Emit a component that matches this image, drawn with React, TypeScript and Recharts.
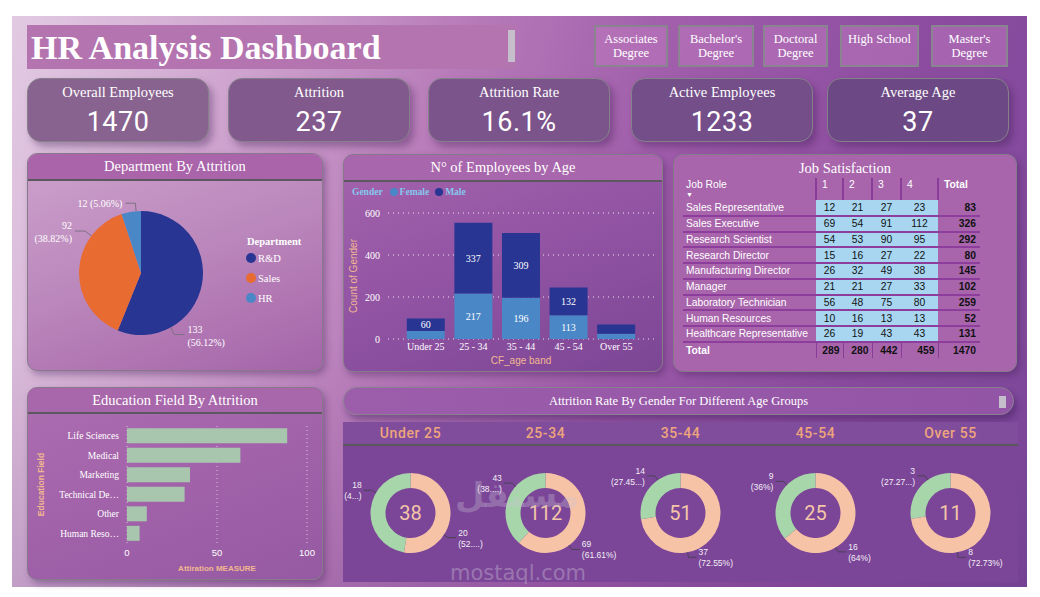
import React from "react";
import {
  PieChart,
  Pie,
  Cell,
  Label,
  BarChart,
  Bar,
  XAxis,
  YAxis,
  CartesianGrid,
  LabelList,
  Legend,
} from "recharts";

const SERIF = '"Liberation Serif", "Times New Roman", serif';
const SANS = '"Liberation Sans", Arial, sans-serif';
const DIN = 'Roboto, "Noto Sans", sans-serif';
const PEACH = "#f1b890";
const RAD = Math.PI / 180;

// KPI strip
const kpiLabels = ["Overall Employees", "Attrition", "Attrition Rate", "Active Employees", "Average Age"];
const kpiValues = ["1470", "237", "16.1%", "1233", "37"];
const educationLevels = ["Associates Degree", "Bachelor's Degree", "Doctoral Degree", "High School", "Master's Degree"];

// department by attrition
const departments = ["R&D", "Sales", "HR"];
const deptAttrition = [133, 92, 12];

// employees by age band
const ageBands = ["Under 25", "25 - 34", "35 - 44", "45 - 54", "Over 55"];
const femaleCounts = [38, 217, 196, 113, 25];
const maleCounts = [60, 337, 309, 132, 44];

// job satisfaction matrix
const jobRoles = [
  "Sales Representative",
  "Sales Executive",
  "Research Scientist",
  "Research Director",
  "Manufacturing Director",
  "Manager",
  "Laboratory Technician",
  "Human Resources",
  "Healthcare Representative",
];
const satLevels = ["1", "2", "3", "4"];
const sat1 = [12, 69, 54, 15, 26, 21, 56, 10, 26];
const sat2 = [21, 54, 53, 16, 32, 21, 48, 16, 19];
const sat3 = [27, 91, 90, 27, 49, 27, 75, 13, 43];
const sat4 = [23, 112, 95, 22, 38, 33, 80, 13, 43];

// education field by attrition
const eduFields = ["Life Sciences", "Medical", "Marketing", "Technical De…", "Other", "Human Reso…"];
const eduAttrition = [89, 63, 35, 32, 11, 7];

// attrition by gender per age group
const donutGroups = ["Under 25", "25-34", "35-44", "45-54", "Over 55"];
const donutMale = [20, 69, 37, 16, 8];
const donutFemale = [18, 43, 14, 9, 3];
const donutMalePct = ["(52....)", "(61.61%)", "(72.55%)", "(64%)", "(72.73%)"];
const donutFemalePct = ["(4...)", "(38....)", "(27.45...)", "(36%)", "(27.27...)"];

const deptColors = ["#283593", "#e86b32", "#4a87c7"];
const kpiLefts = [27, 228, 428, 631, 827];
const kpiFills = ["#89638f", "#82598d", "#7b548c", "#734e89", "#6c4984"];
const slicerLefts = [594, 678, 763, 840, 931];
const slicerWidths = [74, 76, 65, 79, 77];

function Panel({ left, top, width, height, title, headerH, bg, headerBg, line = true }: any) {
  return (
    <div
      style={{
        position: "absolute",
        left,
        top,
        width,
        height,
        boxSizing: "border-box",
        borderRadius: 10,
        border: "1.5px solid #85798a",
        background: bg,
        boxShadow: "3px 4px 7px rgba(60,25,80,0.35)",
        overflow: "hidden",
      }}
    >
      <div
        style={{
          height: headerH,
          background: headerBg,
          borderBottom: line ? "2px solid #5d575f" : "none",
          color: "#fff",
          fontFamily: SERIF,
          fontSize: 14.5,
          textAlign: "center",
          lineHeight: headerH + "px",
        }}
      >
        {title}
      </div>
    </div>
  );
}

function deptLabel(p: any) {
  const a = (p.startAngle + (p.endAngle - p.startAngle) * 0.75) * RAD;
  const c = Math.cos(a);
  const s = Math.sin(a);
  const x0 = p.cx + p.outerRadius * c;
  const y0 = p.cy - p.outerRadius * s;
  const x1 = p.cx + (p.outerRadius + 8) * c;
  const y1 = p.cy - (p.outerRadius + 8) * s;
  const dir = c >= 0 ? 1 : -1;
  const x2 = x1 + dir * 10;
  const tx = x2 + dir * 3;
  const pct = `(${(p.percent * 100).toFixed(2)}%)`;
  const single = Math.abs(s) > 0.95;
  return (
    <g>
      <polyline points={`${x0},${y0} ${x1},${y1} ${x2},${y1}`} fill="none" stroke="#7e6f83" strokeWidth={1} />
      <text x={tx} y={y1} textAnchor={dir > 0 ? "start" : "end"} fill="#fff" fontSize={10} fontFamily={SERIF}>
        {single ? (
          <tspan x={tx} dy={4}>{`${p.value} ${pct}`}</tspan>
        ) : (
          <>
            <tspan x={tx} dy={-2}>{p.value}</tspan>
            <tspan x={tx} dy={13}>{pct}</tspan>
          </>
        )}
      </text>
    </g>
  );
}

function donutLabel(p: any) {
  const a = (p.startAngle + (p.endAngle - p.startAngle) * 0.65) * RAD;
  const c = Math.cos(a);
  const s = Math.sin(a);
  const x0 = p.cx + p.outerRadius * c;
  const y0 = p.cy - p.outerRadius * s;
  const x1 = p.cx + (p.outerRadius + 5) * c;
  const y1 = p.cy - (p.outerRadius + 5) * s;
  const dir = c >= 0 ? 1 : -1;
  const x2 = x1 + dir * 8;
  const tx = x2 + dir * 2;
  const pct = p.payload?.pctText ?? p.pctText;
  return (
    <g>
      <polyline points={`${x0},${y0} ${x1},${y1} ${x2},${y1}`} fill="none" stroke="#4b4256" strokeWidth={1} />
      <text x={tx} y={y1} textAnchor={dir > 0 ? "start" : "end"} fill="#f3eef5" fontSize={8.5} fontFamily={SANS}>
        <tspan x={tx} dy={-2}>{p.value}</tspan>
        <tspan x={tx} dy={11}>{pct}</tspan>
      </text>
    </g>
  );
}

function stackLabel(props: any) {
  const { x, y, width, height, value } = props;
  if (height < 11) return null;
  return (
    <text
      x={x + width / 2}
      y={y + height / 2}
      fill="#fff"
      textAnchor="middle"
      dominantBaseline="central"
      fontSize={10}
      fontFamily={SERIF}
    >
      {value}
    </text>
  );
}

function EduTick({ x, y, payload }: any) {
  return (
    <text x={x} y={y} dy={3.5} textAnchor="end" fill="#fff" fontSize={9.5} fontFamily={SERIF}>
      {payload.value}
    </text>
  );
}

function GenderLegend({ payload }: any) {
  return (
    <div style={{ display: "flex", alignItems: "center", fontFamily: SERIF, fontWeight: "bold", fontSize: 9.5, color: "#86c8ee" }}>
      <span style={{ marginRight: 7 }}>Gender</span>
      {(payload || []).map((e: any) => (
        <span key={e.value} style={{ display: "flex", alignItems: "center", marginRight: 6 }}>
          <span style={{ width: 8, height: 8, borderRadius: 4, background: e.color, marginRight: 2 }} />
          {e.value}
        </span>
      ))}
    </div>
  );
}

function DeptLegend({ payload }: any) {
  const items = [...(payload || [])].sort(
    (a: any, b: any) => departments.indexOf(a.value) - departments.indexOf(b.value)
  );
  return (
    <div style={{ fontFamily: SERIF, color: "#fff", fontSize: 10.5 }}>
      <div style={{ fontWeight: "bold", height: 12, lineHeight: "12px" }}>Department</div>
      {items.map((e: any) => (
        <div key={e.value} style={{ display: "flex", alignItems: "center", height: 20 }}>
          <span
            style={{
              width: 10,
              height: 10,
              borderRadius: 5,
              background: deptColors[departments.indexOf(e.value)],
              marginLeft: -1,
              marginRight: 2,
            }}
          />
          {e.value}
        </div>
      ))}
    </div>
  );
}

export default function App() {
  const deptData = departments.map((name, i) => ({ name, value: deptAttrition[i] }));
  const ageData = ageBands.map((band, i) => ({ band, female: femaleCounts[i], male: maleCounts[i] }));
  const eduData = eduFields.map((field, i) => ({ field, value: eduAttrition[i] }));
  const satCols = [sat1, sat2, sat3, sat4];
  const rowTotals = jobRoles.map((_, r) => satCols.reduce((s, col) => s + col[r], 0));
  const colTotals = satCols.map((col) => col.reduce((s, v) => s + v, 0));
  const grand = colTotals.reduce((s, v) => s + v, 0);

  const cellBase: any = { padding: 0, height: 15.75, boxSizing: "border-box", borderBottom: "2px solid #8d3d9b" };

  return (
    <div style={{ position: "fixed", left: 0, top: 0, width: 1040, height: 597, background: "#fff", overflow: "hidden" }}>
      <style>{`.recharts-surface{overflow:visible}`}</style>
      {/* dashboard background */}
      <div
        style={{
          position: "absolute",
          left: 12,
          top: 16,
          width: 1015,
          height: 571,
          background:
            "linear-gradient(180deg, rgba(0,0,0,0) 55%, rgba(50,20,90,0.12) 100%), linear-gradient(105deg, #e2cae2 0%, #cfa5cf 20%, #b679b8 40%, #9d5aa9 60%, #8b4c9f 80%, #7e499b 100%)",
        }}
      />

      {/* title */}
      <div
        style={{
          position: "absolute",
          left: 27,
          top: 25,
          width: 489,
          height: 44,
          background: "#b474b0",
          color: "#fff",
          fontFamily: SERIF,
          fontWeight: "bold",
          fontSize: 34,
          lineHeight: "46px",
          paddingLeft: 4,
          boxSizing: "border-box",
        }}
      >
        HR Analysis Dashboard
      </div>
      <div style={{ position: "absolute", left: 508, top: 30, width: 7, height: 32, background: "#c4bfcb" }} />

      {/* education slicer */}
      {educationLevels.map((lv, i) => (
        <div
          key={lv}
          style={{
            position: "absolute",
            left: slicerLefts[i],
            top: 25,
            width: slicerWidths[i],
            height: 42,
            boxSizing: "border-box",
            border: "2px solid #8a8490",
            background: "rgba(190,120,190,0.55)",
            color: "#fff",
            fontFamily: SERIF,
            fontSize: 12.5,
            lineHeight: "14px",
            textAlign: "center",
            padding: "5px 4px 0",
          }}
        >
          {lv}
        </div>
      ))}

      {/* KPI cards */}
      {kpiLabels.map((lb, i) => (
        <div
          key={lb}
          style={{
            position: "absolute",
            left: kpiLefts[i],
            top: 78,
            width: 182,
            height: 64,
            boxSizing: "border-box",
            borderRadius: 14,
            border: "1.5px solid #85818a",
            background: kpiFills[i],
            boxShadow: "4px 5px 7px rgba(60,25,80,0.35)",
            color: "#fff",
            textAlign: "center",
          }}
        >
          <div style={{ fontFamily: SERIF, fontSize: 14.5, lineHeight: "18px", marginTop: 4 }}>{lb}</div>
          <div style={{ fontFamily: DIN, fontSize: 27, lineHeight: "30px", marginTop: 6, letterSpacing: 0.5 }}>{kpiValues[i]}</div>
        </div>
      ))}

      {/* department by attrition */}
      <Panel
        left={27}
        top={153}
        width={296}
        height={218}
        headerH={25}
        title="Department By Attrition"
        headerBg="#a964aa"
        bg="linear-gradient(160deg, #cda2cc 0%, #ba86bb 50%, #a564a9 100%)"
      />
      <div style={{ position: "absolute", left: 27, top: 180 }}>
        <PieChart width={295} height={190} margin={{ top: 0, right: 0, bottom: 0, left: 0 }}>
          <Pie
            data={deptData}
            dataKey="value"
            nameKey="name"
            cx={114}
            cy={93}
            outerRadius={62}
            startAngle={90}
            endAngle={-270}
            stroke="none"
            label={deptLabel}
            labelLine={false}
            isAnimationActive={false}
          >
            {deptData.map((d, i) => (
              <Cell key={d.name} fill={deptColors[i]} />
            ))}
          </Pie>
          <Legend
            layout="horizontal"
            verticalAlign="middle"
            align="center"
            content={<DeptLegend />}
            wrapperStyle={{ left: 220, top: 56, width: 80 }}
          />
        </PieChart>
      </div>

      {/* employees by age */}
      <Panel
        left={343}
        top={154}
        width={320}
        height={218}
        headerH={25}
        title="N° of Employees by Age"
        headerBg="#a866ac"
        bg="linear-gradient(160deg, #a463ac 0%, #8f52a2 55%, #7c4695 100%)"
      />
      <div style={{ position: "absolute", left: 343, top: 180 }}>
        <BarChart
          width={320}
          height={191}
          data={ageData}
          margin={{ top: 33, right: 9, bottom: 0, left: 10 }}
          barCategoryGap="10%"
        >
          <CartesianGrid vertical={false} stroke="rgba(255,255,255,0.85)" strokeDasharray="1 4" />
          <XAxis
            dataKey="band"
            axisLine={false}
            tickLine={false}
            interval={0}
            tickSize={2}
            padding={{ left: 14, right: 14 }}
            height={32}
            tick={{ fill: "#fff", fontSize: 10, fontFamily: SERIF }}
            label={{ value: "CF_age band", position: "insideBottom", offset: 7, fill: PEACH, fontSize: 10, fontFamily: SANS }}
          />
          <YAxis
            domain={[0, 600]}
            ticks={[0, 200, 400, 600]}
            width={35}
            axisLine={false}
            tickLine={false}
            tick={{ fill: "#fff", fontSize: 10, fontFamily: SERIF }}
            label={{
              value: "Count of Gender",
              angle: -90,
              position: "insideLeft",
              offset: 0,
              fill: PEACH,
              fontSize: 10,
              fontFamily: SANS,
              style: { textAnchor: "middle" },
            }}
          />
          <Legend
            layout="horizontal"
            verticalAlign="middle"
            align="center"
            content={<GenderLegend />}
            wrapperStyle={{ left: 9, top: 7, width: 200 }}
          />
          <Bar dataKey="female" name="Female" stackId="g" fill="#4a87c7" isAnimationActive={false}>
            <LabelList dataKey="female" content={stackLabel} />
          </Bar>
          <Bar dataKey="male" name="Male" stackId="g" fill="#283593" isAnimationActive={false}>
            <LabelList dataKey="male" content={stackLabel} />
          </Bar>
        </BarChart>
      </div>

      {/* job satisfaction */}
      <Panel
        left={673}
        top={154}
        width={344}
        height={218}
        headerH={26}
        title="Job Satisfaction"
        headerBg="transparent"
        bg="#a865ac"
        line={false}
      />
      <table
        style={{
          position: "absolute",
          left: 683,
          top: 178,
          width: 297,
          borderCollapse: "collapse",
          tableLayout: "fixed",
          fontFamily: SANS,
          fontSize: 10.3,
        }}
      >
        <colgroup>
          <col style={{ width: 133 }} />
          <col style={{ width: 27 }} />
          <col style={{ width: 29 }} />
          <col style={{ width: 29 }} />
          <col style={{ width: 37 }} />
          <col style={{ width: 42 }} />
        </colgroup>
        <tbody>
          <tr style={{ height: 22 }}>
            <td style={{ padding: "0 0 0 3px", color: "#fff", verticalAlign: "top", lineHeight: "13px" }}>
              Job Role
              <div style={{ fontSize: 7, lineHeight: "7px" }}>▼</div>
            </td>
            {satLevels.map((lv) => (
              <td
                key={lv}
                style={{ padding: "0 0 0 5px", color: "#fff", verticalAlign: "top", lineHeight: "14px", borderLeft: "2px solid #8a3c99" }}
              >
                {lv}
              </td>
            ))}
            <td style={{ padding: "0 0 0 5px", color: "#fff", fontWeight: "bold", verticalAlign: "top", lineHeight: "14px", borderLeft: "2px solid #8a3c99" }}>
              Total
            </td>
          </tr>
          {jobRoles.map((role, r) => (
            <tr key={role}>
              <td style={{ ...cellBase, paddingLeft: 3, color: "#fff", whiteSpace: "nowrap" }}>{role}</td>
              {satCols.map((col, c) => (
                <td key={c} style={{ ...cellBase, background: "#a8d6f0", color: "#111", textAlign: "center" }}>
                  {col[r]}
                </td>
              ))}
              <td style={{ ...cellBase, color: "#111", fontWeight: "bold", textAlign: "right", paddingRight: 4 }}>{rowTotals[r]}</td>
            </tr>
          ))}
          <tr style={{ height: 16 }}>
            <td style={{ paddingLeft: 3, color: "#fff", fontWeight: "bold" }}>Total</td>
            {colTotals.map((v, c) => (
              <td key={c} style={{ color: "#111", fontWeight: "bold", textAlign: "right", paddingRight: 3, borderLeft: "1px solid #8a3c99" }}>
                {v}
              </td>
            ))}
            <td style={{ color: "#111", fontWeight: "bold", textAlign: "right", paddingRight: 4, borderLeft: "1px solid #8a3c99" }}>{grand}</td>
          </tr>
        </tbody>
      </table>

      {/* education field by attrition */}
      <Panel
        left={27}
        top={387}
        width={296}
        height={193}
        headerH={24}
        title="Education Field By Attrition"
        headerBg="#a866ab"
        bg="linear-gradient(160deg, #ad6db0 0%, #a061a9 55%, #955aa3 100%)"
      />
      <div style={{ position: "absolute", left: 27, top: 415 }}>
        <BarChart
          layout="vertical"
          width={295}
          height={165}
          data={eduData}
          margin={{ top: 11, right: 15, bottom: 0, left: 14 }}
          barCategoryGap="12%"
        >
          <CartesianGrid horizontal={false} stroke="rgba(255,255,255,0.6)" strokeDasharray="1 3" />
          <XAxis
            type="number"
            domain={[0, 100]}
            ticks={[0, 50, 100]}
            axisLine={false}
            tickLine={false}
            tickSize={4}
            height={37}
            tick={{ fill: "#fff", fontSize: 9.5, fontFamily: SANS }}
            label={{ value: "Attiration MEASURE", position: "insideBottom", offset: 9, fill: PEACH, fontSize: 8, fontWeight: "bold", fontFamily: SANS }}
          />
          <YAxis
            type="category"
            dataKey="field"
            width={86}
            axisLine={false}
            tickLine={false}
            interval={0}
            tick={<EduTick />}
            label={{
              value: "Education Field",
              angle: -90,
              position: "insideLeft",
              offset: 0,
              fill: PEACH,
              fontSize: 8.5,
              fontWeight: "bold",
              fontFamily: SANS,
              style: { textAnchor: "middle" },
            }}
          />
          <Bar dataKey="value" fill="#a7c6ad" isAnimationActive={false} />
        </BarChart>
      </div>

      {/* attrition by gender header */}
      <div
        style={{
          position: "absolute",
          left: 343,
          top: 387,
          width: 671,
          height: 28,
          boxSizing: "border-box",
          borderRadius: 14,
          border: "1.5px solid #8a7e90",
          background: "linear-gradient(90deg, #9c5dab 0%, #9254a5 100%)",
          boxShadow: "3px 5px 7px rgba(50,20,80,0.4)",
          color: "#fff",
          fontFamily: SERIF,
          fontSize: 12.5,
          lineHeight: "26px",
          textAlign: "center",
        }}
      >
        Attrition Rate By Gender For Different Age Groups
        <div style={{ position: "absolute", right: 7, top: 8, width: 7, height: 12, background: "#c4bfcb" }} />
      </div>

      {/* donut strip */}
      <div style={{ position: "absolute", left: 343, top: 422, width: 675, height: 160, background: "#7b4698" }}>
        <div style={{ height: 22, background: "rgba(255,255,255,0.04)", borderBottom: "2px solid #5b585d" }} />
      </div>
      {donutGroups.map((g, i) => {
        const data = [
          { name: "Male", value: donutMale[i], pctText: donutMalePct[i] },
          { name: "Female", value: donutFemale[i], pctText: donutFemalePct[i] },
        ];
        const total = donutMale[i] + donutFemale[i];
        return (
          <div key={g} style={{ position: "absolute", left: 343 + 135 * i, top: 422, width: 135, height: 160 }}>
            <div
              style={{
                height: 22,
                lineHeight: "22px",
                textAlign: "center",
                color: "#eea57c",
                fontFamily: DIN,
                fontWeight: 500,
                fontSize: 14,
                letterSpacing: 0.6,
              }}
            >
              {g}
            </div>
            <div style={{ position: "absolute", left: 0, top: 24 }}>
              <PieChart width={135} height={134} margin={{ top: 0, right: 0, bottom: 0, left: 0 }}>
                <Pie
                  data={data}
                  dataKey="value"
                  nameKey="name"
                  cx={67.5}
                  cy={67}
                  innerRadius={25}
                  outerRadius={40}
                  startAngle={90}
                  endAngle={-270}
                  stroke="none"
                  label={donutLabel}
                  labelLine={false}
                  isAnimationActive={false}
                >
                  <Cell fill="#f7c3a7" />
                  <Cell fill="#a6d6a9" />
                  <Label value={String(total)} position="center" fill="#f3c7a7" fontSize={20} fontFamily={DIN} />
                </Pie>
              </PieChart>
            </div>
          </div>
        );
      })}

      {/* watermark */}
      <div
        style={{
          position: "absolute",
          left: 455,
          top: 470,
          width: 120,
          textAlign: "center",
          fontFamily: '"DejaVu Sans", sans-serif',
          fontWeight: "bold",
          fontSize: 34,
          color: "rgba(205,195,215,0.33)",
          lineHeight: "50px",
        }}
      >
        مستقل
      </div>
      <div
        style={{
          position: "absolute",
          left: 450,
          top: 560,
          width: 135,
          textAlign: "center",
          fontFamily: '"DejaVu Sans", sans-serif',
          fontSize: 21,
          color: "rgba(205,195,215,0.4)",
          lineHeight: "26px",
        }}
      >
        mostaql.com
      </div>
    </div>
  );
}
